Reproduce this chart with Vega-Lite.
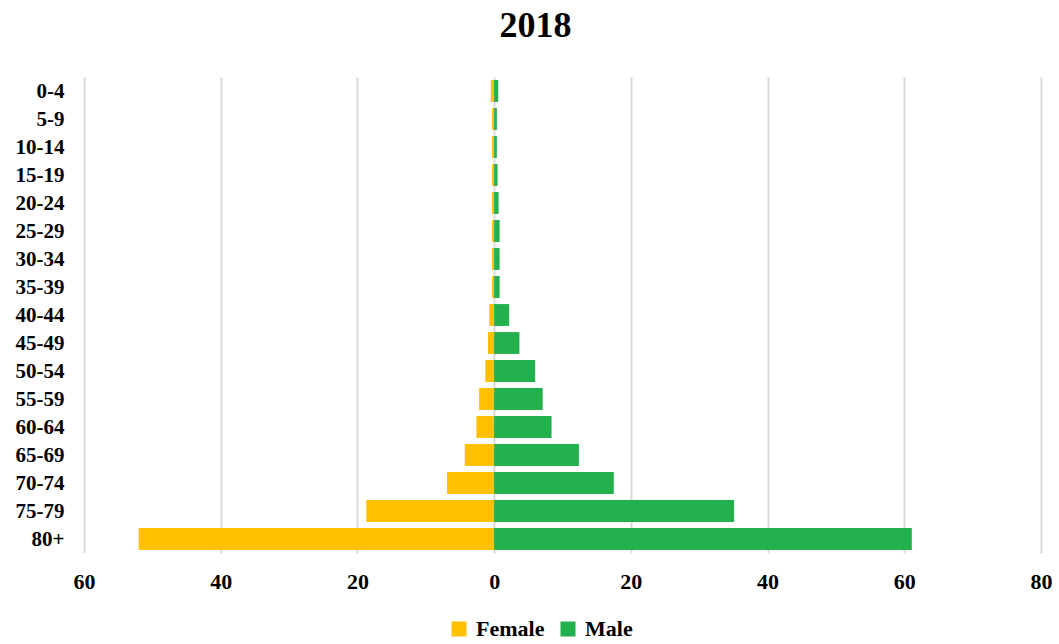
{
  "$schema": "https://vega.github.io/schema/vega-lite/v6.json",
  "autosize": "none",
  "width": 957,
  "height": 476,
  "padding": {"left": 84, "top": 77, "right": 18, "bottom": 91},
  "background": "white",
  "title": {
    "text": "2018",
    "font": "Liberation Serif",
    "fontSize": 36,
    "fontWeight": "bold",
    "color": "#000000",
    "anchor": "middle",
    "dx": -27,
    "offset": 32
  },
  "data": {
    "values": [
      {"age": "0-4", "sex": "Female", "value": -0.5},
      {"age": "0-4", "sex": "Male", "value": 0.6},
      {"age": "5-9", "sex": "Female", "value": -0.3},
      {"age": "5-9", "sex": "Male", "value": 0.4},
      {"age": "10-14", "sex": "Female", "value": -0.3},
      {"age": "10-14", "sex": "Male", "value": 0.4},
      {"age": "15-19", "sex": "Female", "value": -0.3},
      {"age": "15-19", "sex": "Male", "value": 0.5},
      {"age": "20-24", "sex": "Female", "value": -0.3},
      {"age": "20-24", "sex": "Male", "value": 0.65},
      {"age": "25-29", "sex": "Female", "value": -0.3},
      {"age": "25-29", "sex": "Male", "value": 0.8},
      {"age": "30-34", "sex": "Female", "value": -0.3},
      {"age": "30-34", "sex": "Male", "value": 0.8},
      {"age": "35-39", "sex": "Female", "value": -0.3},
      {"age": "35-39", "sex": "Male", "value": 0.8},
      {"age": "40-44", "sex": "Female", "value": -0.7},
      {"age": "40-44", "sex": "Male", "value": 2.2},
      {"age": "45-49", "sex": "Female", "value": -0.9},
      {"age": "45-49", "sex": "Male", "value": 3.7},
      {"age": "50-54", "sex": "Female", "value": -1.3},
      {"age": "50-54", "sex": "Male", "value": 6.0},
      {"age": "55-59", "sex": "Female", "value": -2.2},
      {"age": "55-59", "sex": "Male", "value": 7.1},
      {"age": "60-64", "sex": "Female", "value": -2.6},
      {"age": "60-64", "sex": "Male", "value": 8.4},
      {"age": "65-69", "sex": "Female", "value": -4.3},
      {"age": "65-69", "sex": "Male", "value": 12.4},
      {"age": "70-74", "sex": "Female", "value": -6.9},
      {"age": "70-74", "sex": "Male", "value": 17.5},
      {"age": "75-79", "sex": "Female", "value": -18.7},
      {"age": "75-79", "sex": "Male", "value": 35.1},
      {"age": "80+", "sex": "Female", "value": -52.0},
      {"age": "80+", "sex": "Male", "value": 61.1}
    ]
  },
  "mark": {"type": "bar"},
  "encoding": {
    "y": {
      "field": "age",
      "type": "nominal",
      "sort": null,
      "scale": {"paddingInner": 0.22, "paddingOuter": 0.11},
      "axis": {
        "title": null,
        "ticks": false,
        "domain": false,
        "labelFont": "Liberation Serif",
        "labelFontSize": 21,
        "labelFontWeight": "bold",
        "labelColor": "#000000",
        "labelPadding": 20,
        "labelBaseline": "middle",
        "labelOffset": 1
      }
    },
    "x": {
      "field": "value",
      "type": "quantitative",
      "scale": {"domain": [-60, 80], "nice": false},
      "axis": {
        "title": null,
        "values": [-60, -40, -20, 0, 20, 40, 60, 80],
        "labelExpr": "abs(datum.value)",
        "labelFlush": false,
        "labelOverlap": false,
        "labelBound": false,
        "ticks": false,
        "domain": false,
        "grid": true,
        "gridColor": "#d9d9d9",
        "gridWidth": 2,
        "labelFont": "Liberation Serif",
        "labelFontSize": 22,
        "labelFontWeight": "bold",
        "labelColor": "#000000",
        "labelPadding": 18
      }
    },
    "color": {
      "field": "sex",
      "type": "nominal",
      "scale": {"domain": ["Female", "Male"], "range": ["#FFC000", "#22B14C"]},
      "legend": {
        "title": null,
        "orient": "none",
        "direction": "horizontal",
        "legendX": 364,
        "legendY": 541,
        "symbolType": "square",
        "symbolSize": 225,
        "symbolStrokeWidth": 0,
        "labelFont": "Liberation Serif",
        "labelFontSize": 22,
        "labelFontWeight": "bold",
        "labelColor": "#000000",
        "labelOffset": 6,
        "columnPadding": 12
      }
    }
  },
  "config": {"view": {"stroke": null}}
}
